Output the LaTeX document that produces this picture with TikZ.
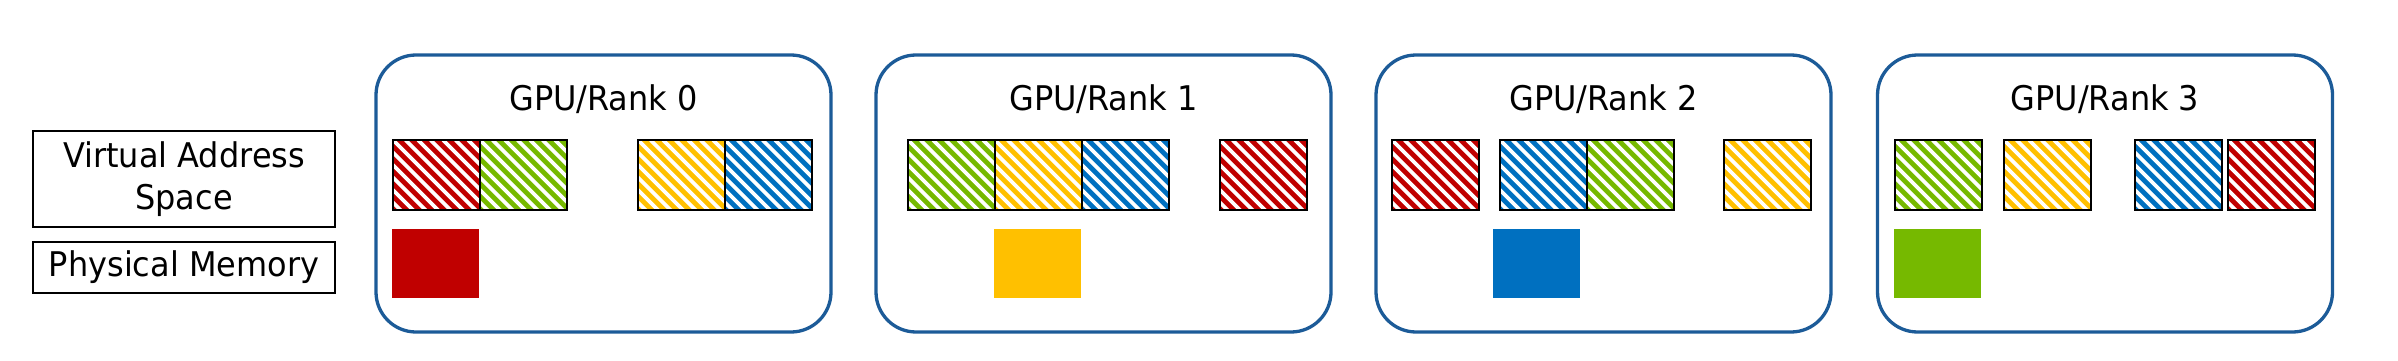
\documentclass[tikz,border=0pt]{standalone}
\usepackage{fontspec}
\setmainfont{DejaVu Sans}[FakeStretch=0.94]
\definecolor{cred}{HTML}{C00000}
\definecolor{cgreen}{HTML}{76B900}
\definecolor{cyellow}{HTML}{FFC000}
\definecolor{cblue}{HTML}{0070C0}
\definecolor{cframe}{HTML}{1C5B98}
\tikzset{
  gpubox/.style={draw=cframe, line width=3.3pt, rounded corners=40pt,
    minimum width=455pt, minimum height=277pt, inner sep=0pt},
  gputitle/.style={anchor=base, inner sep=0pt, font=\fontsize{34}{40}\selectfont},
  labbox/.style={draw=black, line width=1.3pt, minimum width=302pt, inner sep=0pt,
    align=center, font=\fontsize{34}{42}\selectfont},
  hblock/.style={draw=black, line width=2.2pt, fill=#1, anchor=north west,
    minimum width=87pt, minimum height=70pt, inner sep=0pt,
    path picture={
      \foreach \i in {-7,...,8}
        \draw[white, line width=3.6pt]
          ([xshift=\i*12.5pt]path picture bounding box.north west) -- ++(100,100);
    }},
  sblock/.style={fill=#1, anchor=north west, minimum width=87pt,
    minimum height=69pt, inner sep=0pt}
}
\begin{document}
\begin{tikzpicture}[x=1pt,y=-1pt]
\useasboundingbox (0,0) rectangle (2398,361);
% legend
\node[labbox, minimum height=96pt] (va) at (184,179) {Virtual Address\\Space};
\node[labbox, minimum height=51pt] (pm) at (184,267.5) {Physical Memory};
% GPU boxes
\foreach \k/\cx in {0/603.5,1/1103.5,2/1603.5,3/2105} {
  \node[gpubox] (g\k) at (\cx,193.5) {};
  \node[gputitle] (t\k) at (\cx,110) {GPU/Rank \k};
}
% rank 0
\node[hblock=cred]    (v0r) at (392,139) {};
\node[hblock=cgreen]  (v0g) at (479,139) {};
\node[hblock=cyellow] (v0y) at (637,139) {};
\node[hblock=cblue]   (v0b) at (724,139) {};
\node[sblock=cred]    (p0)  at (392,229) {};
% rank 1
\node[hblock=cgreen]  (v1g) at (907,139) {};
\node[hblock=cyellow] (v1y) at (994,139) {};
\node[hblock=cblue]   (v1b) at (1081,139) {};
\node[hblock=cred]    (v1r) at (1219,139) {};
\node[sblock=cyellow] (p1)  at (994,229) {};
% rank 2
\node[hblock=cred]    (v2r) at (1391,139) {};
\node[hblock=cblue]   (v2b) at (1499,139) {};
\node[hblock=cgreen]  (v2g) at (1586,139) {};
\node[hblock=cyellow] (v2y) at (1723,139) {};
\node[sblock=cblue]   (p2)  at (1493,229) {};
% rank 3
\node[hblock=cgreen]  (v3g) at (1894,139) {};
\node[hblock=cyellow] (v3y) at (2003,139) {};
\node[hblock=cblue]   (v3b) at (2134,139) {};
\node[hblock=cred]    (v3r) at (2227,139) {};
\node[sblock=cgreen]  (p3)  at (1894,229) {};
\end{tikzpicture}
\end{document}
